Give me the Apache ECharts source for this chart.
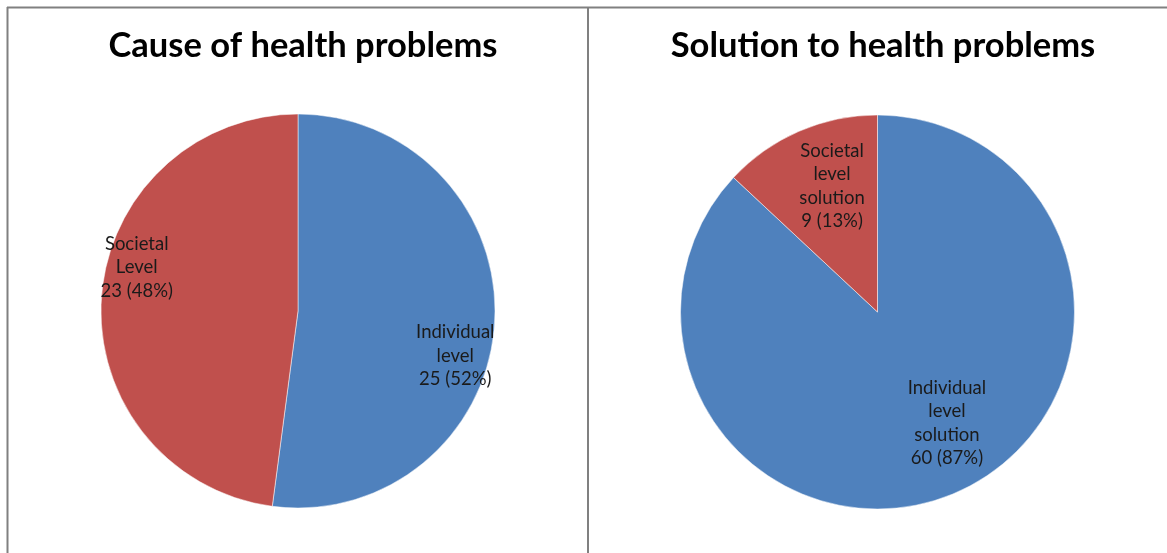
<!DOCTYPE html>
<html>
<head>
<meta charset="utf-8">
<script src="https://cdn.jsdelivr.net/npm/echarts@6/dist/echarts.min.js"></script>
<style>
html,body{margin:0;padding:0;background:#fff;}
#chart{width:1167px;height:553px;}
</style>
</head>
<body>
<div id="chart"></div>
<script>
const titles = ['Cause of health problems', 'Solution to health problems'];
const causeCategories = ['Individual\nlevel', 'Societal\nLevel'];
const causeValues = [25, 23];
const solutionCategories = ['Individual\nlevel\nsolution', 'Societal\nlevel\nsolution'];
const solutionValues = [60, 9];

const COLORS = ['#4F81BD', '#C0504D'];
const FONT = 'Lato';
const R = 197;

function pct(v, arr) {
  const s = arr.reduce((a, b) => a + b, 0);
  return Math.round(v / s * 100);
}

function makeData(cats, vals, offsets) {
  return cats.map((c, i) => ({
    name: c,
    value: vals[i],
    label: { offset: offsets[i] }
  }));
}

const chart = echarts.init(document.getElementById('chart'), null, {renderer: 'canvas'});

const labelStyle = (vals) => ({
  show: true,
  position: 'inside',
  color: '#1a1a1a',
  fontFamily: FONT,
  fontSize: 18.5,
  lineHeight: 23.5,
  align: 'center',
  formatter: p => p.name + '\n' + p.value + ' (' + pct(p.value, vals) + '%)'
});

chart.setOption({
  animation: false,
  backgroundColor: '#fff',
  color: COLORS,
  title: [
    { text: titles[0], left: 298, top: 23, textAlign: 'center',
      textStyle: { fontFamily: FONT, fontWeight: 'bold', fontSize: 34.5, color: '#000' } },
    { text: titles[1], left: 878, top: 23, textAlign: 'center',
      textStyle: { fontFamily: FONT, fontWeight: 'bold', fontSize: 34.5, color: '#000' } }
  ],
  graphic: [
    { type: 'line', shape: { x1: 7, y1: 7.5, x2: 1167, y2: 7.5 }, style: { stroke: '#808080', lineWidth: 2 } },
    { type: 'line', shape: { x1: 7.5, y1: 7, x2: 7.5, y2: 553 }, style: { stroke: '#808080', lineWidth: 2 } },
    { type: 'line', shape: { x1: 588, y1: 7, x2: 588, y2: 553 }, style: { stroke: '#808080', lineWidth: 2 } }
  ],
  series: [
    {
      type: 'pie',
      center: [298, 311],
      radius: R,
      startAngle: 90,
      clockwise: true,
      label: labelStyle(causeValues),
      labelLine: { show: false },
      itemStyle: { borderColor: '#fff', borderWidth: 0.5 },
      emphasis: { disabled: true },
      data: makeData(causeCategories, causeValues, [[56, 38], [-60, -37]])
    },
    {
      type: 'pie',
      center: [877.5, 312],
      radius: R,
      startAngle: 90,
      clockwise: true,
      label: labelStyle(solutionValues),
      labelLine: { show: false },
      itemStyle: { borderColor: '#fff', borderWidth: 0.5 },
      emphasis: { disabled: true },
      data: makeData(solutionCategories, solutionValues, [[29, 18], [-5, -33]])
    }
  ]
});
</script>
</body>
</html>
